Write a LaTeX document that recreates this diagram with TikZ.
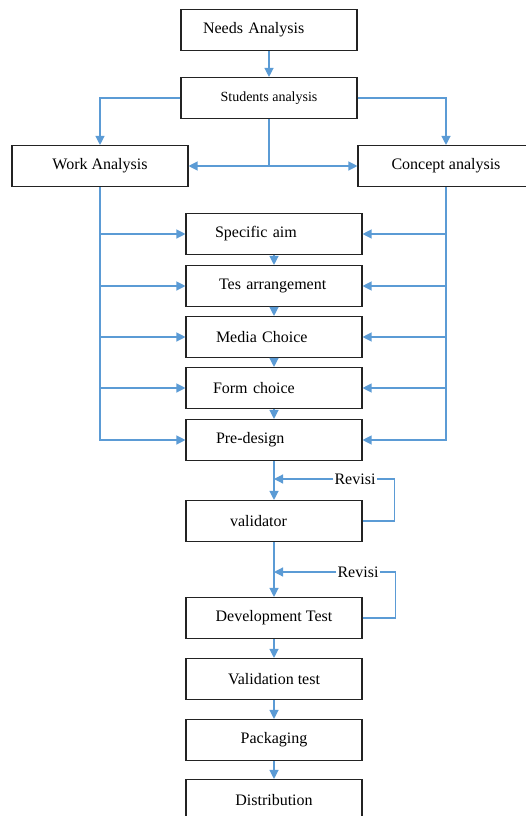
\documentclass[tikz,border=0pt]{standalone}
\usepackage{fontspec}
\setmainfont{Liberation Serif}
\usepackage{tikz}
\usetikzlibrary{arrows.meta}
\usetikzlibrary{calc}
\definecolor{flowblue}{RGB}{91,155,213}
\definecolor{boxgray}{RGB}{35,35,35}
\newcommand{\widthbox}{176pt}
\newcommand{\heightbox}{41pt}
\newcommand{\fontbox}{\fontsize{16}{19}\selectfont}
\tikzset{
    box/.style={draw=boxgray, line width=1.1pt, rectangle, inner sep=0pt, minimum width=\widthbox, minimum height=\heightbox, font=\fontbox},
    smallbox/.style={box, font=\fontsize{14}{17}\selectfont},
    padleft/.style 2 args={align=left, inner xsep=#1, text width=#2},
    flow/.style={draw=flowblue, line width=1.2pt},
    arrow/.style={flow, -{Triangle[length=9pt, width=9pt]}},
    revisi/.style={fill=white, inner sep=1pt, font=\fontbox},
}
\begin{document}
\begin{tikzpicture}[x=1pt, y=-1pt]
            \useasboundingbox (0,0) rectangle (525,816);
            \path
                (269,30) node[box, padleft={22pt}{132pt}] (needs-analysis) {Needs Analysis}
                (269,98) node[smallbox] (students-analysis) {Students analysis}
                (100,166) node[box] (work-analysis) {Work Analysis}
                (446,166) node[box] (concept-analysis) {Concept analysis}
                (274,234) node[box, padleft={29pt}{118pt}] (specific-aim) {Specific aim}
                (274,286) node[box, padleft={33pt}{110pt}] (tes-arrangement) {Tes arrangement}
                (274,337) node[box, padleft={30pt}{116pt}] (media-choice) {Media Choice}
                (274,388) node[box, padleft={27pt}{122pt}] (form-choice) {Form choice}
                (274,440) node[box, padleft={30pt}{116pt}] (pre-design) {Pre-design}
                (274,521) node[box, padleft={44pt}{88pt}] (validator) {validator}
                (274,618) node[box] (development-test) {Development Test}
                (274,679) node[box] (validation-test) {Validation test}
                (274,740) node[box] (packaging) {Packaging}
                (274,800) node[box] (distribution) {Distribution};

            \draw[arrow] (needs-analysis.south) -- (students-analysis.north);
            \draw[arrow] (students-analysis.west) -| (work-analysis.north);
            \draw[arrow] (students-analysis.east) -| (concept-analysis.north);

            \coordinate (split) at (students-analysis.south |- work-analysis.east);
            \draw[flow] (students-analysis.south) -- (split);
            \draw[arrow] (split) -- (work-analysis.east);
            \draw[arrow] (split) -- (concept-analysis.west);

            \foreach \step in {specific-aim, tes-arrangement, media-choice, form-choice, pre-design} {
                \draw[arrow] (work-analysis.south) |- (\step.west);
                \draw[arrow] (concept-analysis.south) |- (\step.east);
            }

            \draw[arrow] (specific-aim.south) -- (tes-arrangement.north);
            \draw[arrow] (tes-arrangement.south) -- (media-choice.north);
            \draw[arrow] (media-choice.south) -- (form-choice.north);
            \draw[arrow] (form-choice.south) -- (pre-design.north);
            \draw[arrow] (pre-design.south) -- (validator.north);
            \draw[arrow] (validator.south) -- (development-test.north);
            \draw[arrow] (development-test.south) -- (validation-test.north);
            \draw[arrow] (validation-test.south) -- (packaging.north);
            \draw[arrow] (packaging.south) -- (distribution.north);

            \node[revisi] (revisi-1) at (355,479) {Revisi};
            \coordinate (revisi-1-end) at (pre-design.south |- revisi-1);
            \draw[flow] (validator.east) -- ++(32,0) |- (revisi-1.east);
            \draw[arrow] (revisi-1.west) -- (revisi-1-end);

            \node[revisi] (revisi-2) at (358,572) {Revisi};
            \coordinate (revisi-2-end) at (validator.south |- revisi-2);
            \draw[flow] (development-test.east) -- ++(33,0) |- (revisi-2.east);
            \draw[arrow] (revisi-2.west) -- (revisi-2-end);
          \end{tikzpicture}
\end{document}
